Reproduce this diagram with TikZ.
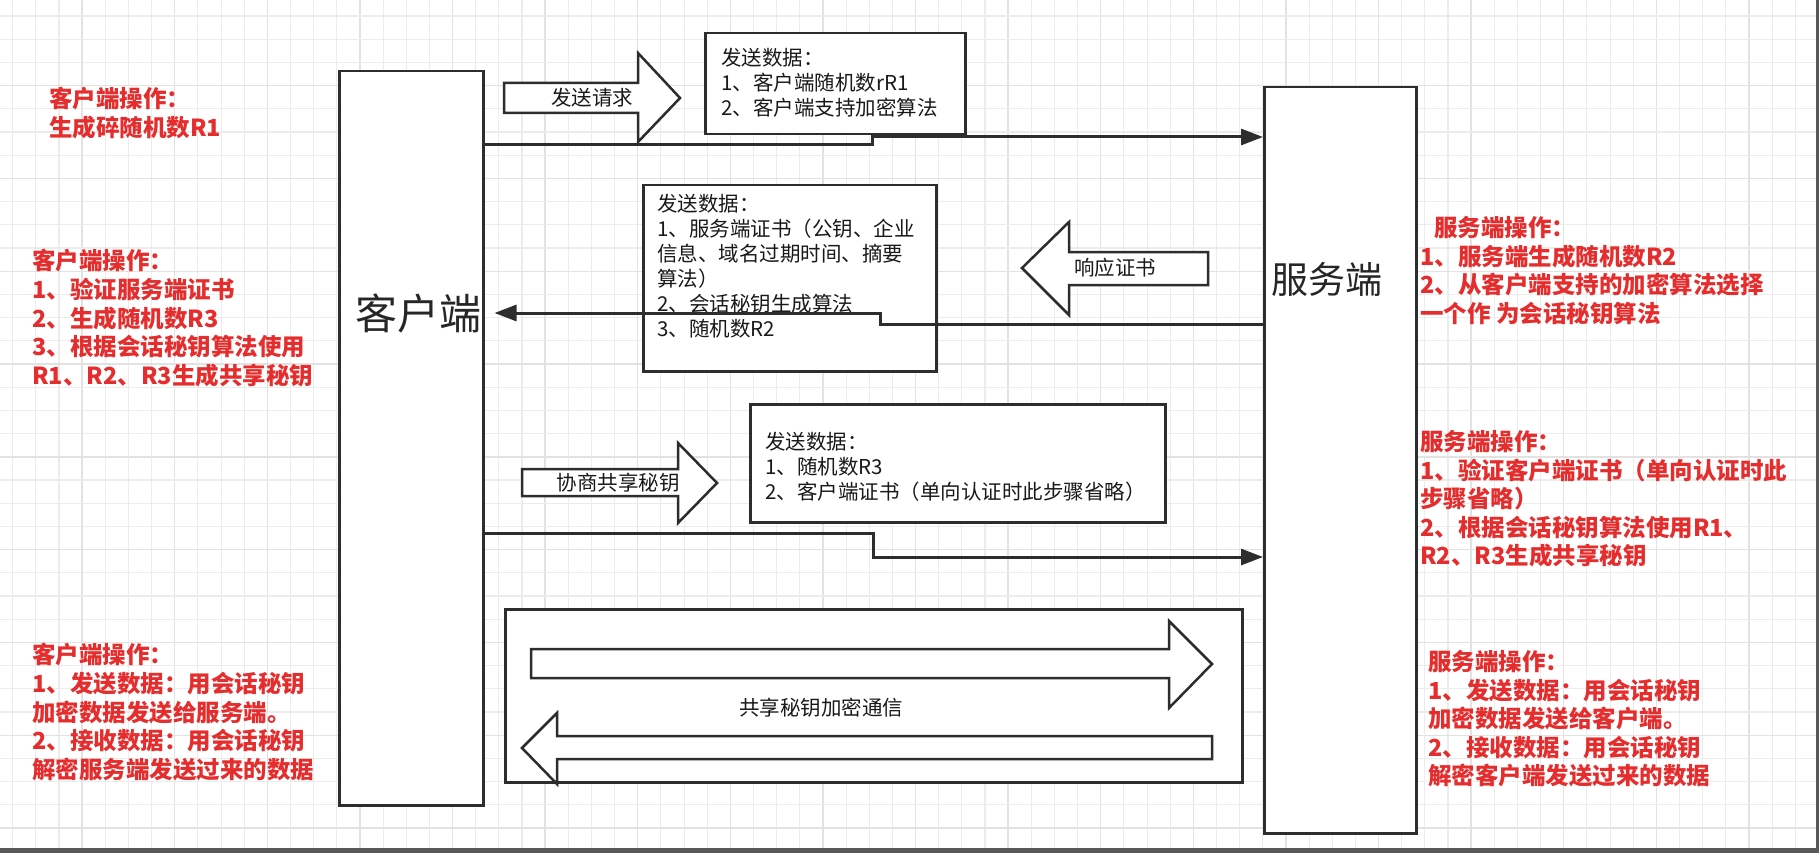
\documentclass[tikz,border=0pt]{standalone}
\usepackage{fontspec}
\setmainfont{Noto Sans CJK SC}
\usetikzlibrary{arrows.meta}

\definecolor{opred}{RGB}{230,45,45}
\definecolor{gridminor}{RGB}{236,236,236}
\definecolor{gridmajor}{RGB}{226,226,226}
\definecolor{edge}{RGB}{45,45,45}

\begin{document}
\begin{tikzpicture}[x=1pt,y=-1pt,
    every node/.style={inner sep=0pt},
    box/.style={draw=edge, line width=2.5pt, fill=white},
    blockarrow/.style={draw=edge, line width=2.5pt, fill=white, line join=miter},
    msgtext/.style={anchor=north west, align=left, text=black!90, font=\fontsize{20.5}{25}\selectfont},
    arrowtext/.style={text=black!90, font=\fontsize{20.5}{25}\selectfont},
    optext/.style={anchor=north west, align=left, text=opred, font=\bfseries\fontsize{23.5}{28.6}\selectfont},
    flow/.style={draw=edge, line width=3pt, -{Triangle[length=22pt,width=16pt]}}]
    \useasboundingbox (0,0) rectangle (1819,853);
    \fill[white] (0,0) rectangle (1819,853);
    \foreach \i in {0,...,78} {
        \pgfmathtruncatemacro{\m}{mod(\i,4)}
        \ifnum\m=3
            \draw[gridmajor, line width=1.4pt] ({12.7+23.15*\i},0) -- ({12.7+23.15*\i},848);
        \else
            \draw[gridminor, line width=1.1pt] ({12.7+23.15*\i},0) -- ({12.7+23.15*\i},848);
        \fi
    }
    \foreach \j in {0,...,36} {
        \pgfmathtruncatemacro{\m}{mod(\j,4)}
        \ifnum\m=3
            \draw[gridmajor, line width=1.4pt] (0,{16+23.2*\j}) -- (1816,{16+23.2*\j});
        \else
            \draw[gridminor, line width=1.1pt] (0,{16+23.2*\j}) -- (1816,{16+23.2*\j});
        \fi
    }
    \fill[black!65] (0,848) rectangle (1819,853);
    \fill[black!65] (1816,0) rectangle (1819,853);

    \node[box, anchor=north west, minimum width=144pt, minimum height=734pt] (client) at (338,70) {};
    \node[text=black!85, font=\fontsize{42}{48}\selectfont] (clientlabel) at (418,313) {客户端};
    \node[box, anchor=north west, minimum width=152pt, minimum height=746pt] (server) at (1263,86) {};
    \node[text=black!85, font=\fontsize{37}{44}\selectfont] (serverlabel) at (1327,279) {服务端};

    \node[box, anchor=north west, minimum width=260pt, minimum height=101pt] (hellomsg) at (704,32) {};
    \node[msgtext] (hellotext) at (721,47.8) {发送数据：\\1、客户端随机数rR1\\2、客户端支持加密算法};
    \node[box, anchor=north west, minimum width=293pt, minimum height=186pt] (certmsg) at (642,184) {};
    \node[msgtext] (certtext) at (657,193.5) {发送数据：\\1、服务端证书（公钥、企业\\信息、域名过期时间、摘要\\算法）\\2、会话秘钥生成算法\\3、随机数R2};
    \node[box, anchor=north west, minimum width=415pt, minimum height=118pt] (keymsg) at (749,403) {};
    \node[msgtext] (keytext) at (765,431.8) {发送数据：\\1、随机数R3\\2、客户端证书（单向认证时此步骤省略）};
    \node[box, anchor=north west, minimum width=737pt, minimum height=173pt] (secure) at (504,608) {};

    \draw[flow] (client.east |- 0,145) -- (872,145) -- (872,137) -- (server.west |- 0,137);
    \draw[flow, shorten >=10pt] (server.west |- 0,324) -- (880,324) -- (880,313) -- (client.east |- 0,313);
    \draw[flow] (client.east |- 0,533) -- (873,533) -- (873,557) -- (server.west |- 0,557);

    \draw[blockarrow] (504,83) -- (638,83) -- (638,53) -- (680,98) -- (638,142) -- (638,113) -- (504,113) -- cycle;
    \node[arrowtext] (reqlabel) at (592,98) {发送请求};
    \draw[blockarrow] (1208,252) -- (1069,252) -- (1069,222) -- (1022,268) -- (1069,315) -- (1069,285) -- (1208,285) -- cycle;
    \node[arrowtext] (resplabel) at (1115,268) {响应证书};
    \draw[blockarrow] (522,469) -- (678,469) -- (678,443) -- (717,483) -- (678,523) -- (678,496) -- (522,496) -- cycle;
    \node[arrowtext] (negolabel) at (618,483) {协商共享秘钥};
    \draw[blockarrow] (531,649) -- (1169,649) -- (1169,621) -- (1212,664) -- (1169,708) -- (1169,678) -- (531,678) -- cycle;
    \draw[blockarrow] (1212,736) -- (557,736) -- (557,713) -- (522,748) -- (557,784) -- (557,759) -- (1212,759) -- cycle;
    \node[arrowtext] (securelabel) at (821,708) {共享秘钥加密通信};

    \node[optext] (clientop1) at (49,87.2) {客户端操作：\\生成碎随机数R1};
    \node[optext] (clientop2) at (32,249.2) {客户端操作：\\1、验证服务端证书\\2、生成随机数R3\\3、根据会话秘钥算法使用\\R1、R2、R3生成共享秘钥};
    \node[optext] (clientop3) at (32,643.2) {客户端操作：\\1、发送数据：用会话秘钥\\加密数据发送给服务端。\\2、接收数据：用会话秘钥\\解密服务端发送过来的数据};
    \node[optext] (serverop1) at (1420,216.2) {\hspace*{14pt}服务端操作：\\1、服务端生成随机数R2\\2、从客户端支持的加密算法选择\\一个作 为会话秘钥算法};
    \node[optext] (serverop2) at (1420,430.2) {服务端操作：\\1、验证客户端证书（单向认证时此\\步骤省略）\\2、根据会话秘钥算法使用R1、\\R2、R3生成共享秘钥};
    \node[optext] (serverop3) at (1428,650.2) {服务端操作：\\1、发送数据：用会话秘钥\\加密数据发送给客户端。\\2、接收数据：用会话秘钥\\解密客户端发送过来的数据};
\end{tikzpicture}
\end{document}
